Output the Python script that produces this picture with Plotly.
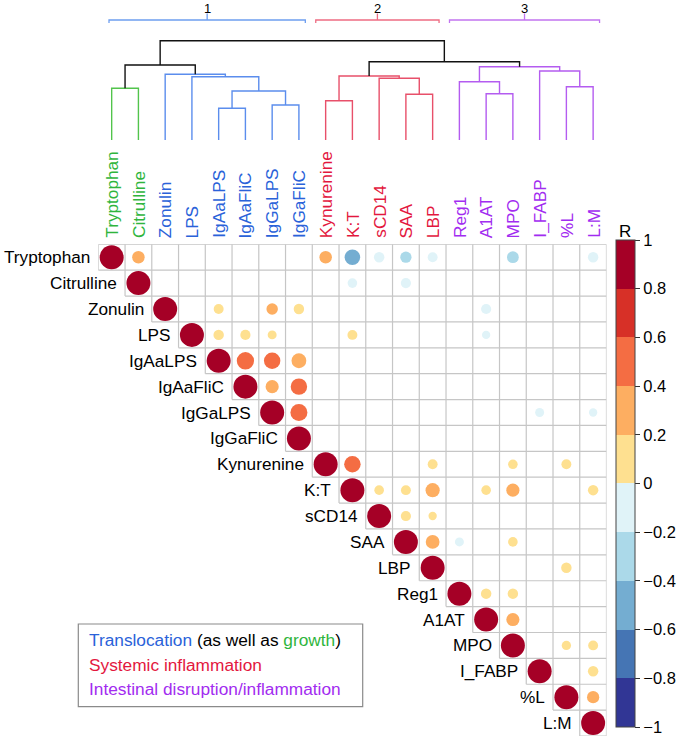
import math
import plotly.graph_objects as go

# ---------------- data ----------------
variables = ["Tryptophan", "Citrulline", "Zonulin", "LPS", "IgAaLPS", "IgAaFliC",
             "IgGaLPS", "IgGaFliC", "Kynurenine", "K:T", "sCD14", "SAA", "LBP",
             "Reg1", "A1AT", "MPO", "I_FABP", "%L", "L:M"]
variable_group = ["growth", "growth",
                  "translocation", "translocation", "translocation",
                  "translocation", "translocation", "translocation",
                  "systemic", "systemic", "systemic", "systemic", "systemic",
                  "intestinal", "intestinal", "intestinal", "intestinal",
                  "intestinal", "intestinal"]

# off-diagonal correlations (upper triangle, non-blank cells)
pair_a = ["Tryptophan", "Tryptophan", "Tryptophan", "Tryptophan", "Tryptophan",
          "Tryptophan", "Tryptophan", "Tryptophan",
          "Citrulline", "Citrulline",
          "Zonulin", "Zonulin", "Zonulin", "Zonulin",
          "LPS", "LPS", "LPS", "LPS", "LPS",
          "IgAaLPS", "IgAaLPS", "IgAaLPS",
          "IgAaFliC", "IgAaFliC",
          "IgGaLPS", "IgGaLPS", "IgGaLPS",
          "Kynurenine", "Kynurenine", "Kynurenine", "Kynurenine",
          "K:T", "K:T", "K:T", "K:T", "K:T", "K:T",
          "sCD14", "sCD14",
          "SAA", "SAA", "SAA",
          "LBP",
          "Reg1", "Reg1",
          "A1AT",
          "MPO", "MPO",
          "I_FABP",
          "%L"]
pair_b = ["Citrulline", "Kynurenine", "K:T", "sCD14", "SAA", "LBP", "MPO", "L:M",
          "K:T", "SAA",
          "IgAaLPS", "IgGaLPS", "IgGaFliC", "A1AT",
          "IgAaLPS", "IgAaFliC", "IgGaLPS", "K:T", "A1AT",
          "IgAaFliC", "IgGaLPS", "IgGaFliC",
          "IgGaLPS", "IgGaFliC",
          "IgGaFliC", "I_FABP", "L:M",
          "K:T", "LBP", "MPO", "%L",
          "sCD14", "SAA", "LBP", "A1AT", "MPO", "L:M",
          "SAA", "LBP",
          "LBP", "Reg1", "MPO",
          "%L",
          "A1AT", "MPO",
          "MPO",
          "%L", "L:M",
          "L:M",
          "L:M"]
pair_r = [0.27, 0.27, -0.42, -0.19, -0.22, -0.17, -0.24, -0.19,
          -0.16, -0.18,
          0.17, 0.23, 0.19, -0.18,
          0.19, 0.18, 0.14, 0.17, -0.12,
          0.52, 0.47, 0.38,
          0.30, 0.47,
          0.50, -0.14, -0.12,
          0.47, 0.17, 0.16, 0.17,
          0.16, 0.17, 0.35, 0.16, 0.30, 0.19,
          0.18, 0.12,
          0.33, -0.14, 0.16,
          0.19,
          0.19, 0.19,
          0.30,
          0.15, 0.17,
          0.19,
          0.26]

# hierarchical clustering (scipy-style linkage: leaves 0..18, new nodes 19..)
link_a = [4, 6, 8, 11, 14, 19, 0, 17, 13, 10, 3, 21, 2, 16, 27, 25, 30, 34]
link_b = [5, 7, 9, 12, 15, 20, 1, 18, 23, 22, 24, 28, 29, 26, 32, 31, 33, 35]
link_h = [31.7, 35.0, 39.3, 45.7, 46.3, 49.0, 51.7, 53.3, 58.3, 61.7, 63.3,
          64.0, 65.7, 69.0, 73.3, 75.0, 78.3, 99.3]

cluster_names = ["1", "2", "3"]
cluster_first = ["Tryptophan", "Kynurenine", "Reg1"]
cluster_last = ["IgGaFliC", "LBP", "L:M"]

bin_edges = [-1.0, -0.8, -0.6, -0.4, -0.2, 0.0, 0.2, 0.4, 0.6, 0.8, 1.0]
tick_labels = ["−1", "−0.8", "−0.6", "−0.4", "−0.2", "0", "0.2", "0.4", "0.6", "0.8", "1"]

legend_lines = [
    [("Translocation", "translocation"), (" (as well as ", None), ("growth", "growth"), (")", None)],
    [("Systemic inflammation", "systemic")],
    [("Intestinal disruption/inflammation", "intestinal")],
]

# ---------------- style ----------------
W, H = 679, 738
FONT = "Liberation Sans, Arial, Helvetica, sans-serif"
bin_colors = ["#313695", "#4575b4", "#74add1", "#abd9e9", "#e0f3f8",
              "#fee090", "#fdae61", "#f46d43", "#d73027", "#a50026"]
label_color = {"growth": "#2fb53d", "translocation": "#2a62d9",
               "systemic": "#e3173e", "intestinal": "#a22cf0"}
tree_color = {"growth": "#52c44c", "translocation": "#5b8ded",
              "systemic": "#e8506a", "intestinal": "#b45cf0"}
bracket_color = ["#6e9ef0", "#ee6c82", "#c274f0"]

n = len(variables)
idx = {v: i for i, v in enumerate(variables)}

grid_left, grid_right = 98.3, 606.5
grid_top, grid_bottom = 244.3, 736.0
x_dom = [grid_left / W, grid_right / W]
y_dom = [1 - grid_bottom / H, 1 - grid_top / H]
tree_dom = [1 - 240 / H, 1.0]

fig = go.Figure()

# grid of the upper triangle
gx, gy = [], []
for k in range(n + 1):
    xs = max(k - 1, 0) - 0.5
    gx += [xs, n - 0.5, None]
    gy += [k - 0.5, k - 0.5, None]
    ye = min(k, n - 1) + 0.5
    gx += [k - 0.5, k - 0.5, None]
    gy += [-0.5, ye, None]
fig.add_trace(go.Scatter(x=gx, y=gy, mode="lines", hoverinfo="skip",
                         line=dict(color="#c6c6c6", width=1.2), showlegend=False))

# circles
cx, cy, cr = [], [], []
for i, v in enumerate(variables):
    cx.append(i); cy.append(i); cr.append(1.0)
for a, b, r in zip(pair_a, pair_b, pair_r):
    cx.append(idx[b]); cy.append(idx[a]); cr.append(r)

colorscale = []
for k, c in enumerate(bin_colors):
    colorscale.append([k / 10, c])
    colorscale.append([(k + 1) / 10, c])

diag_size = 24.0
fig.add_trace(go.Scatter(
    x=cx, y=cy, mode="markers", showlegend=False,
    marker=dict(size=[diag_size * math.sqrt(abs(r)) for r in cr], color=cr,
                colorscale=colorscale, cmin=-1, cmax=1, line=dict(width=0),
                opacity=1, showscale=True,
                colorbar=dict(x=615.7 / W, xanchor="left", xpad=0, ypad=0,
                              y=1 - 240 / H, yanchor="top",
                              len=487, lenmode="pixels",
                              thickness=19, thicknessmode="pixels",
                              outlinewidth=1, outlinecolor="#444",
                              tickvals=bin_edges, ticktext=tick_labels,
                              ticks="outside", ticklen=5, tickcolor="#333",
                              ticklabeloverflow="allow",
                              tickfont=dict(size=16.5, color="black", family=FONT))),
    text=[f"{r:.2f}" for r in cr], hoverinfo="text"))

# dendrogram
pos = {i: (float(i), 0.0) for i in range(n)}
leaves = {i: {i} for i in range(n)}
segs = {}
for k, (a, b, h) in enumerate(zip(link_a, link_b, link_h)):
    xa, ha = pos[a]
    xb, hb = pos[b]
    node = n + k
    leaves[node] = leaves[a] | leaves[b]
    groups = {variable_group[i] for i in leaves[node]}
    col = tree_color[groups.pop()] if len(groups) == 1 else "#111111"
    sx, sy = segs.setdefault(col, ([], []))
    sx += [xa, xa, xb, xb, None]
    sy += [ha, h, h, hb, None]
    pos[node] = ((xa + xb) / 2, h)
for col, (sx, sy) in segs.items():
    fig.add_trace(go.Scatter(x=sx, y=sy, mode="lines", xaxis="x2", yaxis="y2",
                             line=dict(color=col, width=1.4), hoverinfo="skip",
                             showlegend=False))

# cluster brackets
for ci, (name, f, l) in enumerate(zip(cluster_names, cluster_first, cluster_last)):
    x0 = idx[f] - (0.1 if ci == 0 else 0.37)
    x1 = idx[l] + 0.24
    xm = (x0 + x1) / 2
    fig.add_trace(go.Scatter(
        x=[x0, x0, x1, x1, None, xm, xm], y=[117, 120, 120, 117, None, 120, 126.5],
        mode="lines", xaxis="x2", yaxis="y2", hoverinfo="skip", showlegend=False,
        line=dict(color=bracket_color[ci], width=1.3)))
    fig.add_annotation(x=xm, y=132, xref="x2", yref="y2", text=name, showarrow=False,
                       font=dict(size=13, color="black", family=FONT))

annotations = []
# row labels
for i, v in enumerate(variables):
    annotations.append(dict(x=i - 0.5, y=i, xref="x", yref="y", text=v,
                            xanchor="right", yanchor="middle", xshift=-6,
                            showarrow=False,
                            font=dict(size=17.2, color="black", family=FONT)))
# column labels
for i, v in enumerate(variables):
    annotations.append(dict(x=i, y=1 - 240 / H, xref="x", yref="paper", text=v,
                            textangle=-90, xanchor="center", yanchor="bottom",
                            showarrow=False,
                            font=dict(size=17.2, color=label_color[variable_group[i]],
                                      family=FONT)))
# colorbar title
annotations.append(dict(x=625 / W, y=1 - 232 / H, xref="paper", yref="paper",
                        text="R", showarrow=False, xanchor="center", yanchor="middle",
                        font=dict(size=17, color="black", family=FONT)))
# legend box text
line_y = [640, 665, 689]
for ly, parts in zip(line_y, legend_lines):
    txt = "".join(
        f"<span style='color:{label_color[g]}'>{t}</span>" if g else t
        for t, g in parts)
    annotations.append(dict(x=87.3 / W, y=1 - ly / H, xref="paper", yref="paper",
                            text=txt, showarrow=False, xanchor="left",
                            yanchor="middle",
                            font=dict(size=17.3, color="black", family=FONT)))
for a in annotations:
    fig.add_annotation(**a)

fig.add_shape(type="rect", xref="paper", yref="paper",
              x0=78.3 / W, x1=362.7 / W, y0=1 - 706.7 / H, y1=1 - 624 / H,
              line=dict(color="#8a8a8a", width=1.2), fillcolor="rgba(0,0,0,0)")

noax = dict(showgrid=False, zeroline=False, showticklabels=False, ticks="",
            showline=False)
fig.update_layout(
    width=W, height=H, autosize=False,
    margin=dict(l=0, r=0, t=0, b=0, autoexpand=False),
    paper_bgcolor="white", plot_bgcolor="white",
    xaxis=dict(domain=x_dom, range=[-0.5, n - 0.5], **noax),
    yaxis=dict(domain=y_dom, range=[n - 0.5, -0.5], **noax),
    xaxis2=dict(domain=x_dom, range=[-0.5, n - 0.5], anchor="y2", **noax),
    yaxis2=dict(domain=tree_dom, range=[-100, 140], anchor="x2", **noax),
    hovermode="closest",
)

fig.write_html("out.html", config={"displayModeBar": False},
               post_script="document.body.style.margin='0';"
                           "document.body.style.overflow='hidden';")
